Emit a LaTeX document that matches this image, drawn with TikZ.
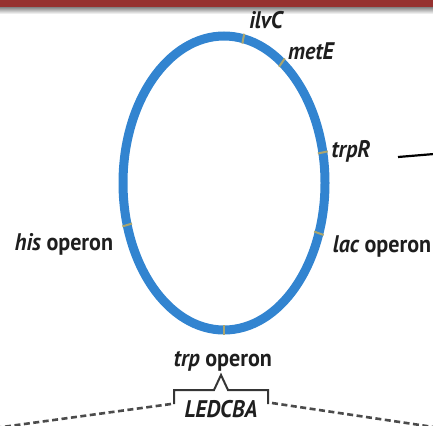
\documentclass[tikz,border=0pt]{standalone}
\usepackage{fontspec}
\newfontfamily\labfont[FakeStretch=0.92]{PT Sans}
\definecolor{barred}{RGB}{150,50,48}
\definecolor{ringblue}{RGB}{50,132,208}
\definecolor{tickc}{RGB}{170,165,110}
\definecolor{txt}{RGB}{30,30,30}
\tikzset{
  gene/.style={inner sep=0pt, text=txt, font=\labfont\bfseries\fontsize{24}{26}\selectfont},
  ringline/.style={draw=ringblue, line width=9pt},
  tickline/.style={draw=tickc, line width=2pt},
  bracel/.style={draw=txt!90, line width=2pt},
  dashline/.style={draw=txt!80, line width=2.6pt, dash pattern=on 6pt off 3.5pt},
  solidline/.style={draw=black, line width=2.2pt}
}
\begin{document}
\begin{tikzpicture}[x=1pt,y=-1pt]
\useasboundingbox (0,0) rectangle (433,425);
% top bar
\fill[barred] (0,0) rectangle (433,7.5);
\shade[top color=black!45, bottom color=white] (0,7.5) rectangle (433,14);
% ring
\draw[ringline] (224,183) ellipse [x radius=101pt, y radius=147pt];
\foreach \t in {79,55,12,-20,196.6,270}{
  \draw[tickline] ({224+96*cos(\t)},{183-142*sin(\t)}) -- ({224+106*cos(\t)},{183-152*sin(\t)});
}
% labels
\node[gene] (ilvc) at (266,20) {\itshape ilvC};
\node[gene] (mete) at (311,51) {\itshape metE};
\node[gene] (trpr) at (351,151) {\itshape trpR};
\node[gene] (lac) at (382,246) {\itshape lac\upshape\ operon};
\node[gene] (his) at (64,244) {\itshape his\upshape\ operon};
\node[gene] (trp) at (223,361) {\itshape trp\upshape\ operon};
\node[gene, font=\labfont\bfseries\itshape\fontsize{24}{26}\selectfont] (led) at (221,409) {LEDCBA};
% brace
\draw[bracel] (174,404) -- (174,390) -- (214,390) -- (221,375) -- (228,390) -- (268,390) -- (268,404);
\coordinate (bl) at (171,404);
\coordinate (br) at (272,403);
\coordinate (dl) at (-5,428);
\coordinate (dr) at (440,428);
\draw[dashline] (bl) -- (dl);
\draw[dashline] (br) -- (dr);
% line to the right
\coordinate (ls) at (398,157);
\coordinate (le) at (440,153.5);
\draw[solidline] (ls) -- (le);
\end{tikzpicture}
\end{document}
